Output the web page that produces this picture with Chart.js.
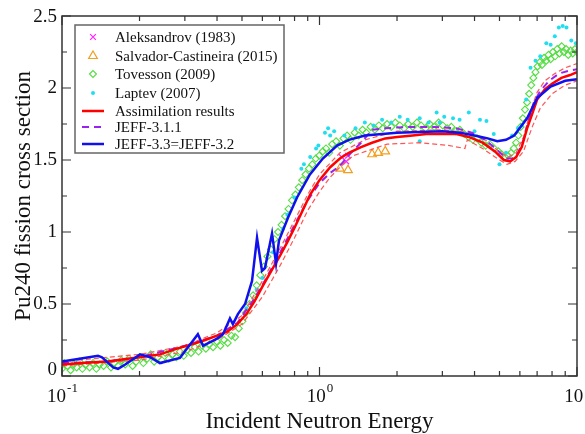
<!DOCTYPE html>
<html>
<head>
<meta charset="utf-8">
<script src="https://cdn.jsdelivr.net/npm/chart.js@4"></script>
<style>
  html, body { margin: 0; padding: 0; background: #fff; }
</style>
</head>
<body>
<canvas id="xsChart" width="585" height="434"></canvas>
<script>
// axis ticks
const xMajor = [0.1, 1, 10];
const xMajorExp = ['-1', '0', '1'];
const xMinor = [0.2, 0.3, 0.4, 0.5, 0.6, 0.7, 0.8, 0.9, 2, 3, 4, 5, 6, 7, 8, 9];
const yMajor = [0, 0.5, 1, 1.5, 2, 2.5];
const yLabels = ['0', '0.5', '1', '1.5', '2', '2.5'];
const yMinor = [0.25, 0.75, 1.25, 1.75, 2.25];

// measurements
const aleksE = [1.22, 1.27, 1.29];
const aleksS = [1.52, 1.49, 1.53];

const salvE = [1.20, 1.29, 1.60, 1.69, 1.80];
const salvS = [1.44, 1.43, 1.54, 1.55, 1.56];

const tovE = [0.100, 0.102, 0.105, 0.108, 0.111, 0.114, 0.117, 0.120, 0.124, 0.128, 0.132, 0.136, 0.140, 0.145,
  0.150, 0.155, 0.160, 0.165, 0.170, 0.176, 0.182, 0.188, 0.194, 0.200, 0.207, 0.214, 0.221, 0.228, 0.236,
  0.244, 0.252, 0.260, 0.269, 0.278, 0.287, 0.297, 0.307, 0.317, 0.328, 0.339, 0.350, 0.362, 0.374, 0.386,
  0.399, 0.412, 0.426, 0.440, 0.455, 0.470, 0.486, 0.502, 0.518, 0.535, 0.552, 0.570, 0.589, 0.608, 0.628,
  0.648, 0.669, 0.690, 0.712, 0.735, 0.758, 0.782, 0.806, 0.831, 0.857, 0.883, 0.910, 0.938, 0.967, 0.997,
  1.03, 1.06, 1.09, 1.12, 1.16, 1.20, 1.24, 1.28, 1.32, 1.37, 1.42, 1.47, 1.52, 1.58, 1.64, 1.70, 1.76,
  1.83, 1.90, 1.97, 2.05, 2.13, 2.21, 2.30, 2.39, 2.48, 2.58, 2.68, 2.79, 2.90, 3.01, 3.13, 3.25, 3.38,
  3.51, 3.65, 3.79, 3.94, 4.09, 4.25, 4.42, 4.59, 4.77, 4.95, 5.10, 5.25, 5.40, 5.55, 5.68, 5.80, 5.92,
  6.04, 6.16, 6.28, 6.40, 6.52, 6.64, 6.77, 6.90, 7.03, 7.17, 7.31, 7.45, 7.60, 7.75, 7.90, 8.06, 8.22,
  8.38, 8.55, 8.72, 8.89, 9.07, 9.25, 9.44, 9.63, 9.82, 10.0];
const tovS = [0.05, 0.09, 0.07, 0.04, 0.08, 0.06, 0.10, 0.05, 0.08, 0.06, 0.09, 0.05, 0.08, 0.07,
  0.10, 0.06, 0.09, 0.07, 0.11, 0.08, 0.12, 0.07, 0.10, 0.13, 0.09, 0.12, 0.15, 0.10, 0.13,
  0.11, 0.16, 0.12, 0.15, 0.13, 0.17, 0.14, 0.18, 0.16, 0.20, 0.17, 0.21, 0.19, 0.22, 0.20,
  0.24, 0.21, 0.25, 0.23, 0.28, 0.27, 0.33, 0.38, 0.44, 0.50, 0.56, 0.63, 0.70, 0.76, 0.83,
  0.88, 0.95, 1.00, 1.05, 1.11, 1.16, 1.22, 1.26, 1.31, 1.36, 1.40, 1.44, 1.47, 1.51, 1.53,
  1.56, 1.58, 1.55, 1.61, 1.63, 1.60, 1.65, 1.67, 1.64, 1.69, 1.67, 1.71, 1.69, 1.73, 1.71, 1.74, 1.72,
  1.75, 1.73, 1.76, 1.74, 1.72, 1.75, 1.73, 1.76, 1.74, 1.72, 1.75, 1.73, 1.76, 1.74, 1.72, 1.73, 1.70,
  1.71, 1.68, 1.66, 1.64, 1.65, 1.62, 1.60, 1.61, 1.58, 1.56, 1.54, 1.52, 1.53, 1.55, 1.58, 1.62, 1.67,
  1.73, 1.79, 1.85, 1.90, 1.96, 2.02, 2.07, 2.11, 2.15, 2.18, 2.16, 2.21, 2.19, 2.23, 2.20, 2.25, 2.22,
  2.27, 2.24, 2.29, 2.25, 2.27, 2.23, 2.26, 2.24, 2.27, 2.25];

const lapE = [0.52, 0.57, 0.60, 0.66, 0.72, 0.75, 0.80, 0.85, 0.87, 0.92, 0.97, 0.99, 1.05, 1.08, 1.10,
  1.14, 1.25, 1.38, 1.50, 1.62, 1.75, 1.90, 2.05, 2.20, 2.45, 2.45, 2.65, 2.85, 2.93, 3.05, 3.30, 3.50,
  3.80, 4.00, 4.20, 4.45, 4.75, 5.00, 5.30, 5.60, 5.90, 6.10, 6.35, 6.60, 6.90, 7.20, 7.60, 7.90, 8.20,
  8.50, 8.80, 9.10, 9.50, 9.90];
const lapS = [0.47, 0.60, 0.68, 0.86, 1.02, 1.12, 1.24, 1.44, 1.47, 1.52, 1.58, 1.60, 1.69, 1.72, 1.67,
  1.70, 1.67, 1.72, 1.76, 1.74, 1.78, 1.76, 1.80, 1.78, 1.79, 1.63, 1.76, 1.83, 1.76, 1.80, 1.79, 1.78,
  1.83, 1.70, 1.78, 1.77, 1.68, 1.47, 1.55, 1.67, 1.72, 1.74, 1.92, 2.14, 2.19, 2.22, 2.31, 2.30, 2.36,
  2.42, 2.43, 2.42, 2.33, 2.31];

// evaluated curves
const assimE = [0.10, 0.12, 0.15, 0.18, 0.20, 0.24, 0.28, 0.32, 0.36, 0.40, 0.44, 0.48, 0.52, 0.56, 0.60,
  0.65, 0.70, 0.75, 0.80, 0.85, 0.92, 1.0, 1.1, 1.2, 1.3, 1.45, 1.6, 1.8, 2.0, 2.3, 2.6, 3.0, 3.4, 3.8,
  4.3, 4.8, 5.2, 5.5, 5.8, 6.1, 6.4, 6.7, 7.0, 7.5, 8.0, 8.7, 9.4, 10];
const assimS = [0.08, 0.09, 0.10, 0.12, 0.13, 0.15, 0.19, 0.22, 0.25, 0.28, 0.31, 0.36, 0.43, 0.52, 0.62,
  0.73, 0.83, 0.93, 1.03, 1.13, 1.26, 1.36, 1.45, 1.51, 1.55, 1.59, 1.62, 1.65, 1.66, 1.67, 1.68, 1.68, 1.68, 1.66,
  1.62, 1.56, 1.50, 1.49, 1.52, 1.59, 1.72, 1.82, 1.92, 1.99, 2.03, 2.07, 2.09, 2.11];

const assimHiE = [0.10, 0.20, 0.30, 0.40, 0.50, 0.60, 0.70, 0.80, 0.90, 1.0, 1.2, 1.5, 2.0, 3.0, 3.8,
  4.4, 4.9, 5.4, 5.8, 6.2, 6.6, 7.0, 7.5, 8.2, 9.0, 10];
const assimHiS = [0.10, 0.15, 0.21, 0.30, 0.42, 0.66, 0.88, 1.08, 1.26, 1.40, 1.55, 1.64, 1.70, 1.71, 1.69,
  1.64, 1.57, 1.52, 1.55, 1.66, 1.84, 1.97, 2.05, 2.10, 2.14, 2.17];

const assimLoE = [0.10, 0.20, 0.30, 0.40, 0.50, 0.60, 0.70, 0.80, 0.90, 1.0, 1.1, 1.2, 1.35, 1.83, 2.45,
  3.2, 3.67, 3.75, 4.3, 4.9, 5.35, 5.75, 6.2, 6.7, 7.2, 8.0, 9.0, 10];
const assimLoS = [0.07, 0.11, 0.17, 0.25, 0.36, 0.55, 0.76, 0.96, 1.15, 1.28, 1.38, 1.45, 1.53, 1.61, 1.62,
  1.60, 1.58, 1.64, 1.58, 1.51, 1.47, 1.49, 1.56, 1.73, 1.86, 1.96, 2.02, 2.05];

const jeff31E = [0.10, 0.15, 0.20, 0.30, 0.40, 0.48, 0.55, 0.60, 0.70, 0.80, 0.90, 1.0, 1.1, 1.2, 1.31,
  1.45, 1.6, 1.8, 2.2, 2.8, 3.4, 3.9, 4.4, 4.9, 5.3, 5.6, 5.9, 6.2, 6.5, 6.8, 7.2, 7.8, 8.5, 9.3, 10];
const jeff31S = [0.09, 0.10, 0.13, 0.21, 0.28, 0.37, 0.52, 0.63, 0.85, 1.05, 1.22, 1.34, 1.41, 1.46, 1.54,
  1.62, 1.71, 1.72, 1.73, 1.73, 1.72, 1.69, 1.64, 1.57, 1.51, 1.51, 1.55, 1.64, 1.78, 1.90, 1.98, 2.05, 2.10, 2.12, 2.13];

const jeff33E = [0.100, 0.117, 0.138, 0.143, 0.158, 0.165, 0.176, 0.201, 0.220, 0.240, 0.287, 0.337, 0.353,
  0.400, 0.422, 0.449, 0.461, 0.482, 0.514, 0.547, 0.572, 0.598, 0.614, 0.654, 0.678, 0.696, 0.755, 0.818,
  0.918, 1.03, 1.17, 1.3, 1.5, 2.0, 3.0, 3.5, 4.0, 4.5, 4.9, 5.3, 5.7, 6.4, 7.0, 7.9, 9.0, 10];
const jeff33S = [0.10, 0.12, 0.14, 0.13, 0.06, 0.05, 0.08, 0.15, 0.13, 0.09, 0.125, 0.29, 0.21,
  0.26, 0.29, 0.40, 0.36, 0.43, 0.50, 0.66, 0.96, 0.73, 0.75, 0.99, 0.78, 0.94, 1.10, 1.24,
  1.40, 1.51, 1.60, 1.64, 1.67, 1.69, 1.70, 1.69, 1.67, 1.65, 1.63, 1.64, 1.67, 1.79, 1.93, 2.01, 2.05, 2.06];

const pts = (xs, ys) => xs.map((x, i) => ({ x: x, y: ys[i] }));

const serif = '"Liberation Serif", "Times New Roman", serif';
const legendRows = [37, 56, 74, 93, 111, 127, 144];

function lineSet(label, xs, ys, color, width, dash, order, noLegend) {
  return {
    label: label,
    data: pts(xs, ys),
    showLine: true,
    borderColor: color,
    backgroundColor: color,
    borderWidth: width,
    borderDash: dash,
    pointRadius: 0,
    tension: 0,
    fill: false,
    order: order,
    noLegend: !!noLegend
  };
}

// frame, inward ticks on all four sides and tick labels
const axesPlugin = {
  id: 'axesPlugin',
  afterDatasetsDraw(chart) {
    const ctx = chart.ctx;
    const a = chart.chartArea;
    const xs = chart.scales.x, ys = chart.scales.y;
    ctx.save();
    ctx.strokeStyle = '#333';
    ctx.lineWidth = 1.5;
    ctx.strokeRect(a.left, a.top, a.right - a.left, a.bottom - a.top);

    ctx.lineWidth = 1.2;
    ctx.beginPath();
    const tickX = (v, len) => {
      const px = xs.getPixelForValue(v);
      ctx.moveTo(px, a.bottom); ctx.lineTo(px, a.bottom - len);
      ctx.moveTo(px, a.top); ctx.lineTo(px, a.top + len);
    };
    const tickY = (v, len) => {
      const py = ys.getPixelForValue(v);
      ctx.moveTo(a.left, py); ctx.lineTo(a.left + len, py);
      ctx.moveTo(a.right, py); ctx.lineTo(a.right - len, py);
    };
    xMajor.forEach(v => tickX(v, 9));
    xMinor.forEach(v => tickX(v, 5));
    yMajor.forEach(v => tickY(v, 9));
    yMinor.forEach(v => tickY(v, 5));
    ctx.stroke();

    // y tick labels
    ctx.fillStyle = '#111';
    ctx.font = '19px ' + serif;
    ctx.textAlign = 'right';
    ctx.textBaseline = 'middle';
    yMajor.forEach((v, i) => {
      let py = ys.getPixelForValue(v);
      if (i === 0) py -= 6;
      if (i === yMajor.length - 1) py += 1;
      ctx.fillText(yLabels[i], a.left - 5, py);
    });

    // x tick labels: 10 with a raised exponent
    ctx.textAlign = 'left';
    ctx.textBaseline = 'alphabetic';
    xMajor.forEach((v, i) => {
      const px = xs.getPixelForValue(v);
      ctx.font = '19px ' + serif;
      const wBase = ctx.measureText('10').width;
      ctx.font = '13px ' + serif;
      const wExp = ctx.measureText(xMajorExp[i]).width;
      const x0 = px - (wBase + wExp) / 2;
      ctx.font = '19px ' + serif;
      ctx.fillText('10', x0, a.bottom + 26);
      ctx.font = '13px ' + serif;
      ctx.fillText(xMajorExp[i], x0 + wBase + 1, a.bottom + 16);
    });

    // axis titles
    ctx.font = '23px ' + serif;
    ctx.textAlign = 'center';
    ctx.fillText('Incident Neutron Energy', (a.left + a.right) / 2, 428);
    ctx.translate(30, 196);
    ctx.rotate(-Math.PI / 2);
    ctx.fillText('Pu240 fission cross section', 0, 0);
    ctx.restore();
  }
};

// boxed legend inside the plot
const legendPlugin = {
  id: 'legendPlugin',
  afterDraw(chart) {
    const ctx = chart.ctx;
    ctx.save();
    ctx.fillStyle = '#fff';
    ctx.fillRect(75, 25, 209, 128);
    ctx.strokeStyle = '#666';
    ctx.lineWidth = 1.5;
    ctx.strokeRect(75, 25, 209, 128);

    const entries = chart.data.datasets.filter(ds => !ds.noLegend);
    entries.forEach((ds, i) => {
      const y = legendRows[i];
      if (ds.showLine) {
        ctx.strokeStyle = ds.borderColor;
        ctx.lineWidth = ds.borderWidth;
        ctx.setLineDash(ds.borderDash || []);
        ctx.beginPath();
        ctx.moveTo(82, y);
        ctx.lineTo(104, y);
        ctx.stroke();
        ctx.setLineDash([]);
      } else {
        ctx.strokeStyle = ds.borderColor;
        ctx.fillStyle = ds.backgroundColor;
        ctx.lineWidth = ds.borderWidth;
        Chart.helpers.drawPoint(ctx, {
          pointStyle: ds.pointStyle,
          radius: ds.pointRadius,
          rotation: 0,
          borderWidth: ds.borderWidth
        }, 93, y);
      }
      ctx.fillStyle = '#111';
      ctx.font = '15px ' + serif;
      ctx.textAlign = 'left';
      ctx.textBaseline = 'middle';
      ctx.fillText(ds.label, 115, y + 1);
    });
    ctx.restore();
  }
};

new Chart(document.getElementById('xsChart'), {
  type: 'scatter',
  data: {
    datasets: [
      {
        label: 'Aleksandrov (1983)', data: pts(aleksE, aleksS),
        pointStyle: 'crossRot', pointRadius: 4, borderColor: '#ff22ff', backgroundColor: '#ff22ff',
        borderWidth: 1.2, order: 6
      },
      {
        label: 'Salvador-Castineira (2015)', data: pts(salvE, salvS),
        pointStyle: 'triangle', pointRadius: 5, borderColor: '#f0a020', backgroundColor: 'rgba(0,0,0,0)',
        borderWidth: 1.2, order: 6
      },
      {
        label: 'Tovesson (2009)', data: pts(tovE, tovS),
        pointStyle: 'rectRot', pointRadius: 3.5, borderColor: '#55dd44', backgroundColor: 'rgba(0,0,0,0)',
        borderWidth: 1.1, order: 8
      },
      {
        label: 'Laptev (2007)', data: pts(lapE, lapS),
        pointStyle: 'circle', pointRadius: 2, borderColor: '#22ddee', backgroundColor: '#22ddee',
        borderWidth: 0, order: 7
      },
      lineSet('Assimilation results', assimE, assimS, '#ff0000', 2.5, [], 2),
      lineSet('JEFF-3.1.1', jeff31E, jeff31S, '#9922ee', 2, [7, 5], 3),
      lineSet('JEFF-3.3=JEFF-3.2', jeff33E, jeff33S, '#1010ee', 2.5, [], 1),
      lineSet('upper', assimHiE, assimHiS, '#ff5555', 1.2, [5, 3], 4, true),
      lineSet('lower', assimLoE, assimLoS, '#ff5555', 1.2, [5, 3], 4, true)
    ]
  },
  options: {
    responsive: false,
    animation: false,
    events: [],
    layout: { padding: { top: 16, right: 8, left: 0, bottom: 0 } },
    plugins: { legend: { display: false }, tooltip: { enabled: false } },
    scales: {
      x: {
        type: 'logarithmic', min: 0.1, max: 10,
        ticks: { display: false }, grid: { display: false }, border: { display: false },
        afterFit(s) { s.height = 58; }
      },
      y: {
        type: 'linear', min: 0, max: 2.5,
        ticks: { display: false }, grid: { display: false }, border: { display: false },
        afterFit(s) { s.width = 62; }
      }
    }
  },
  plugins: [axesPlugin, legendPlugin]
});
</script>
</body>
</html>
